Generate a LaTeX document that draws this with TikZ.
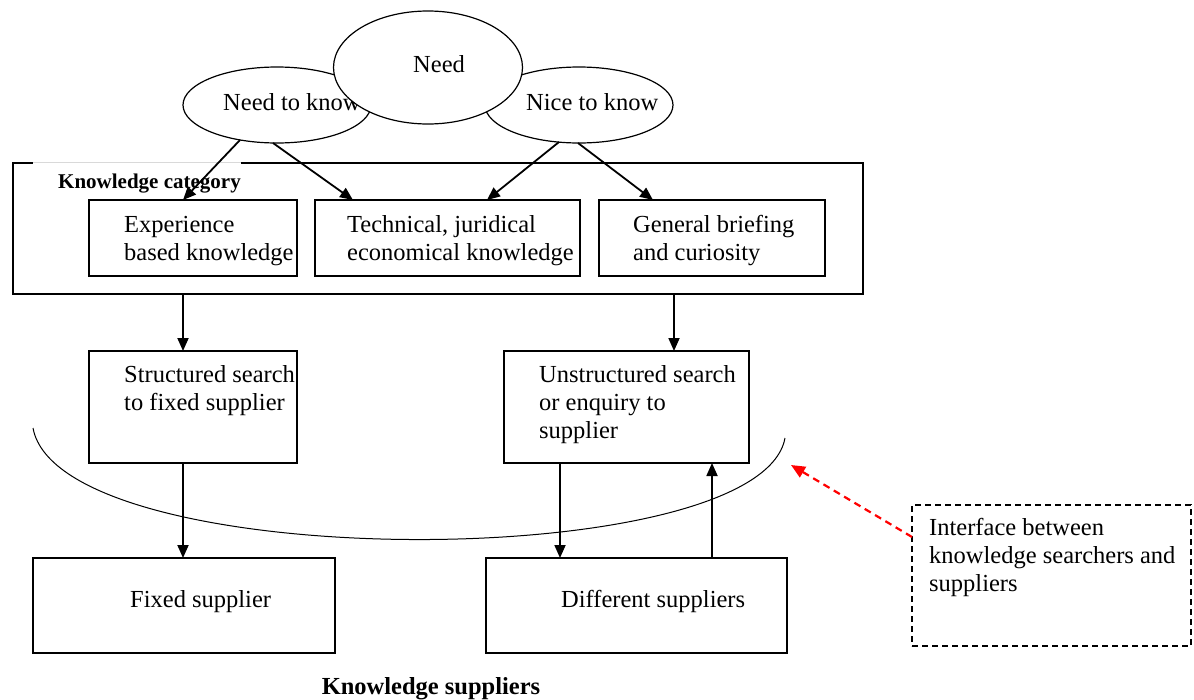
\documentclass[tikz,border=0pt]{standalone}
\usepackage{fontspec}
\setmainfont{Liberation Serif}
\usetikzlibrary{arrows.meta,shapes.geometric}
\newcommand{\mlines}[1]{\begin{tabular}[t]{@{}l@{}}#1\end{tabular}}
\begin{document}
\begin{tikzpicture}[x=1pt,y=-1pt,
  txt/.style={anchor=base west,inner sep=0pt,font=\fontsize{24.5}{28}\selectfont},
  lbl/.style={inner sep=0pt,font=\fontsize{21}{24}\selectfont\bfseries},
  biglbl/.style={inner sep=0pt,font=\fontsize{24.5}{28}\selectfont\bfseries},
  box/.style={draw,line width=1.2pt,rectangle,anchor=north west,inner sep=0pt,outer sep=0pt},
  oval/.style={draw,line width=1.2pt,ellipse,inner sep=0pt,outer sep=0pt,fill=white},
  arr/.style={line width=1.8pt,-{Triangle[length=13pt,width=11pt]}},
]
\useasboundingbox (0,0) rectangle (1194,699);
% ovals
\node[oval,minimum width=188pt,minimum height=76pt] (ntk) at (277,105) {};
\node[oval,minimum width=188pt,minimum height=76pt] (nice) at (579,105) {};
\node[txt] (ntkt) at (223,110) {Need to know};
\node[txt] (nicet) at (526,110) {Nice to know};
\node[oval,minimum width=189pt,minimum height=113pt] (need) at (428,67.5) {};
\node[txt] (needt) at (413,72) {Need};
% knowledge category frame
\node[box,minimum width=850pt,minimum height=131pt] (cat) at (13,163) {};
\node[fill=white,anchor=north west,inner sep=0pt,outer sep=0pt,minimum width=208pt,minimum height=35pt] (catl) at (33,162.2) {};
\draw[black!15,line width=0.8pt] (catl.north west) -- (catl.north east);
\node[lbl,anchor=base west] (catt) at (58,188) {Knowledge category};
% category boxes
\node[box,minimum width=208pt,minimum height=76pt] (exp) at (89,200) {};
\node[box,minimum width=265pt,minimum height=76pt] (tech) at (315,200) {};
\node[box,minimum width=226pt,minimum height=76pt] (gen) at (599,200) {};
\node[txt] (expt) at (124,232) {\mlines{Experience\\based knowledge}};
\node[txt] (techt) at (347,232) {\mlines{Technical, juridical\\economical knowledge}};
\node[txt] (gent) at (633,232) {\mlines{General briefing\\and curiosity}};
% search boxes
\node[box,minimum width=208pt,minimum height=112pt] (struct) at (89,351) {};
\node[box,minimum width=245pt,minimum height=112pt] (unstr) at (504,351) {};
\node[txt] (structt) at (124,382) {\mlines{Structured search\\to fixed supplier}};
\node[txt] (unstrt) at (539,382) {\mlines{Unstructured search\\or enquiry to\\supplier}};
% suppliers
\node[box,minimum width=302pt,minimum height=95pt] (fixed) at (33,558) {};
\node[box,minimum width=301pt,minimum height=95pt] (diff) at (486,558) {};
\node[txt] (fixedt) at (130,607) {Fixed supplier};
\node[txt] (difft) at (561,607) {Different suppliers};
\node[biglbl,anchor=base] (ksup) at (431,694) {Knowledge suppliers};
% interface
\draw[line width=1pt] (33,428) .. controls (60,575) and (760,575) .. (785,438);
\node[box,line width=2pt,dash pattern=on 6pt off 4pt,minimum width=279pt,minimum height=141pt] (iface) at (912,505) {};
\node[txt] (ifacet) at (929,535) {\mlines{Interface between\\knowledge searchers and\\suppliers}};
\coordinate (redtip) at (791,465);
\draw[red,line width=2.2pt,dash pattern=on 7pt off 5pt,-{Triangle[length=14pt,width=12pt]}] ([yshift=38.5pt]iface.west) -- (redtip);
% arrows
\draw[arr] ([xshift=-37pt,yshift=3pt]ntk.south) -- ([xshift=-10pt]exp.north);
\draw[arr] ([xshift=-4pt]ntk.south) -- ([xshift=-94.5pt]tech.north);
\draw[arr] ([xshift=-20pt,yshift=1pt]nice.south) -- ([xshift=39.5pt]tech.north);
\draw[arr] ([xshift=-1pt]nice.south) -- ([xshift=-59pt]gen.north);
\draw[arr] ([xshift=-255pt]cat.south) -- ([xshift=-10pt]struct.north);
\draw[arr] ([xshift=236pt]cat.south) -- ([xshift=47.5pt]unstr.north);
\draw[arr] ([xshift=-10pt]struct.south) -- ([xshift=-1pt]fixed.north);
\draw[arr] ([xshift=-66.5pt]unstr.south) -- ([xshift=-76.5pt]diff.north);
\draw[arr] ([xshift=75.5pt]diff.north) -- ([xshift=85.5pt]unstr.south);
\end{tikzpicture}
\end{document}
